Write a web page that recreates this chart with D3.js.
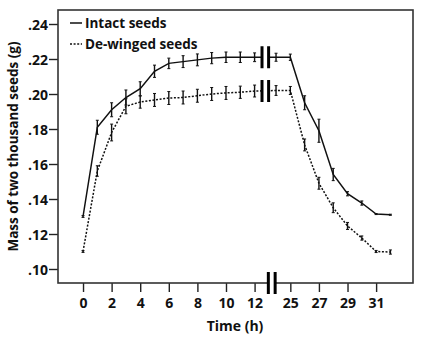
<!DOCTYPE html>
<html>
<head>
<meta charset="utf-8">
<script src="https://cdn.jsdelivr.net/npm/d3@7"></script>
<style>
    body { margin: 0; background: #fff; }
    text { font-family: "Open Sans", "DejaVu Sans", sans-serif; font-weight: bold; fill: #111; }
</style>
</head>
<body>
<div id="chart"></div>
<script>

// time points (h)
let times = [0, 1, 2, 3, 4, 5, 6, 7, 8, 9, 10, 11, 12, 24, 25, 26, 27, 28, 29, 30, 31, 32];

// intact seeds
let intactMean = [0.130, 0.181, 0.191, 0.198, 0.203, 0.213, 0.2175, 0.2185, 0.2195, 0.2205, 0.221, 0.221, 0.221, 0.221, 0.221,
    0.195, 0.179, 0.154, 0.143, 0.1377, 0.1314, 0.131];
let intactErr = [0.0005, 0.004, 0.004, 0.0043, 0.004, 0.0035, 0.003, 0.0034, 0.0034, 0.0032, 0.003, 0.003, 0.0025, 0.0023, 0.0018,
    0.004, 0.0066, 0.0035, 0.0012, 0.0012, 0.0003, 0.0003];

// de-winged seeds
let dewingMean = [0.110, 0.156, 0.178, 0.193, 0.1954, 0.1966, 0.1977, 0.198, 0.199, 0.200, 0.2006, 0.201, 0.2017, 0.202, 0.202,
    0.1709, 0.149, 0.135, 0.1246, 0.1177, 0.110, 0.1097];
let dewingErr = [0.0005, 0.003, 0.0048, 0.0043, 0.0035, 0.0037, 0.0037, 0.0037, 0.0037, 0.0037, 0.0037, 0.0035, 0.0034, 0.0028, 0.0023,
    0.0034, 0.0034, 0.0028, 0.002, 0.0012, 0.0006, 0.0012];

let xTicks = [0, 2, 4, 6, 8, 10, 12, 25, 27, 29, 31];
let yTicks = [0.10, 0.12, 0.14, 0.16, 0.18, 0.20, 0.22, 0.24];

let width = 427, height = 339;
let margin = {top: 10, right: 14, bottom: 56, left: 58};

let svg = d3.select("#chart").append("svg")
    .attr("width", width)
    .attr("height", height);

// broken time axis: 12 h jumps to 24 h
let pos = t => t <= 12 ? t : t - 10.5;

let x = d3.scaleLinear()
    .domain([-1.75, 23.08])
    .range([margin.left, width - margin.right]);

let y = d3.scaleLinear()
    .domain([0.092, 0.248])
    .range([height - margin.bottom, margin.top]);

let xp = t => x(pos(t));

// axes
let xAxis = d3.axisBottom(x)
    .tickValues(xTicks.map(pos))
    .tickFormat((d, i) => xTicks[i])
    .tickSize(9)
    .tickSizeOuter(0);

let yAxis = d3.axisLeft(y)
    .tickValues(yTicks)
    .tickFormat(d => d3.format(".2f")(d).replace(/^0/, ""))
    .tickSize(9)
    .tickSizeOuter(0);

let gx = svg.append("g")
    .attr("transform", `translate(0,${height - margin.bottom})`)
    .call(xAxis);

let gy = svg.append("g")
    .attr("transform", `translate(${margin.left},0)`)
    .call(yAxis);

[gx, gy].forEach(g => {
    g.select(".domain").remove();
    g.selectAll(".tick line").attr("stroke", "#222").attr("stroke-width", 1.4);
    g.selectAll(".tick text").style("font-size", "14px").attr("fill", "#111");
});
gx.selectAll(".tick text").attr("dy", "0.95em");
gy.selectAll(".tick text").attr("dy", "0.36em").attr("x", -10);

// frame
svg.append("rect")
    .attr("x", margin.left)
    .attr("y", margin.top)
    .attr("width", width - margin.left - margin.right)
    .attr("height", height - margin.top - margin.bottom)
    .attr("fill", "none")
    .attr("stroke", "#333")
    .attr("stroke-width", 1.6);

// series
let series = [
    {name: "Intact seeds", mean: intactMean, err: intactErr, dash: null},
    {name: "De-winged seeds", mean: dewingMean, err: dewingErr, dash: "2,1.6"}
];

let line = d3.line()
    .x(d => xp(d.t))
    .y(d => y(d.m));

series.forEach(s => {
    let pts = times.map((t, i) => ({t: t, m: s.mean[i], e: s.err[i]}));

    svg.append("path")
        .datum(pts)
        .attr("d", line)
        .attr("fill", "none")
        .attr("stroke", "#111")
        .attr("stroke-width", 1.5)
        .attr("stroke-dasharray", s.dash);

    let eb = svg.append("g");
    pts.forEach(d => {
        let cx = xp(d.t);
        eb.append("line")
            .attr("x1", cx).attr("x2", cx)
            .attr("y1", y(d.m - d.e)).attr("y2", y(d.m + d.e))
            .attr("stroke", "#111").attr("stroke-width", 1.4);
        [d.m - d.e, d.m + d.e].forEach(v => {
            eb.append("line")
                .attr("x1", cx - 1.5).attr("x2", cx + 1.5)
                .attr("y1", y(v)).attr("y2", y(v))
                .attr("stroke", "#111").attr("stroke-width", 1);
        });
    });

    // break marks on the line
    let bx = x(12.75);
    let by = y(s.mean[12]);
    svg.append("rect")
        .attr("x", bx - 3).attr("y", by - 3)
        .attr("width", 6).attr("height", 6)
        .attr("fill", "#fff");
    [-3.3, 3.3].forEach(o => {
        svg.append("line")
            .attr("x1", bx + o).attr("x2", bx + o)
            .attr("y1", by - 11).attr("y2", by + 11)
            .attr("stroke", "#000").attr("stroke-width", 3);
    });
});

// break mark on the x axis
let ax = x(13.2), ay = height - margin.bottom;
svg.append("rect")
    .attr("x", ax - 3).attr("y", ay - 2)
    .attr("width", 6).attr("height", 4)
    .attr("fill", "#fff");
[-3.4, 3.4].forEach(o => {
    svg.append("line")
        .attr("x1", ax + o).attr("x2", ax + o)
        .attr("y1", ay - 11).attr("y2", ay + 11)
        .attr("stroke", "#000").attr("stroke-width", 3);
});

// legend
let legend = svg.append("g")
    .attr("transform", `translate(${margin.left + 12}, 23)`);

series.forEach((s, i) => {
    let g = legend.append("g").attr("transform", `translate(0, ${i * 21})`);
    g.append("line")
        .attr("x1", 0).attr("x2", 12)
        .attr("stroke", "#111")
        .attr("stroke-width", 1.5)
        .attr("stroke-dasharray", s.dash);
    g.append("text")
        .attr("x", 15)
        .attr("dy", "0.36em")
        .style("font-size", "13.5px")
        .text(s.name);
});

// axis titles
svg.append("text")
    .attr("transform", `translate(18, ${(margin.top + height - margin.bottom) / 2}) rotate(-90)`)
    .attr("text-anchor", "middle")
    .style("font-size", "13.5px")
    .text("Mass of two thousand seeds (g)");

svg.append("text")
    .attr("x", 235)
    .attr("y", 331)
    .attr("text-anchor", "middle")
    .style("font-size", "14px")
    .text("Time (h)");

</script>
</body>
</html>
